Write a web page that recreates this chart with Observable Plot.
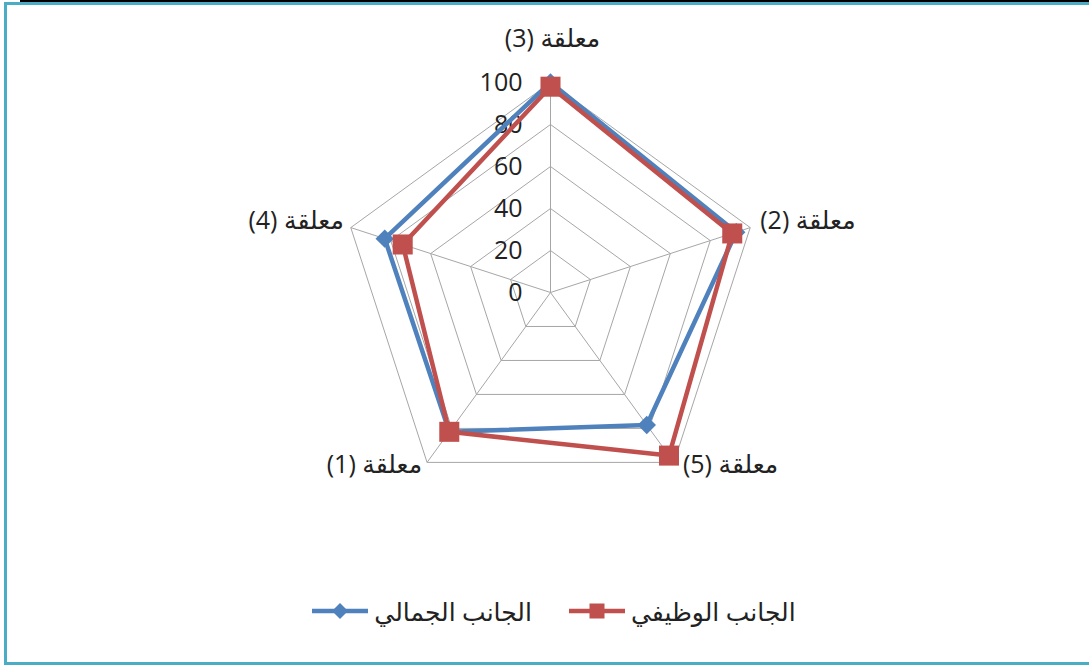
<!DOCTYPE html>
<html><head><meta charset="utf-8">
<script src="https://cdn.jsdelivr.net/npm/d3@7"></script>
<script src="https://cdn.jsdelivr.net/npm/@observablehq/plot@0.6"></script>
<style>
body{margin:0;background:#fff;overflow:hidden;width:1089px;height:666px;position:relative;font-family:"Open Sans","DejaVu Sans",sans-serif;}
#frame{position:absolute;left:4px;top:2px;width:1100px;height:657px;border:3px solid #4bacc6;border-right:none;}
#band{position:absolute;left:20px;top:0;width:1069px;height:2px;background:#000;}
#chart{position:absolute;left:0;top:0;}
#legend{position:absolute;left:0;top:594px;width:1108px;display:flex;justify-content:center;align-items:center;font-size:25px;color:#222;}
#legend .item{display:flex;align-items:center;}
#legend .lbl{direction:rtl;margin-left:6px;}
#legend .gap{width:37px;}
g[aria-label^="axis-name"] text{direction:rtl;}
</style>
</head><body>
<div id="band"></div>
<div id="frame"></div>
<div id="chart"></div>
<div id="legend"></div>
<script>
const axes = ["معلقة (3)", "معلقة (2)", "معلقة (5)", "معلقة (1)", "معلقة (4)"];
const functional = [98, 91, 96, 82, 74];   // الجانب الوظيفي (red)
const aesthetic = [100, 93, 78, 82, 83];   // الجانب الجمالي (blue)
const levels = [20, 40, 60, 80, 100];
const tickLabels = [0, 20, 40, 60, 80, 100];
const seriesNames = ["الجانب الجمالي", "الجانب الوظيفي"];
const seriesColors = ["#4f81bd", "#c0504d"];

const n = axes.length;
const ang = i => Math.PI / 2 - i * 2 * Math.PI / n;
const px = (i, v) => v * Math.cos(ang(i));
const py = (i, v) => v * Math.sin(ang(i));

const W = 1089, H = 580, cx = 550, cy = 292, k = 2.1;

const rings = levels.flatMap(l => d3.range(n + 1).map(j => ({level: l, x: px(j % n, l), y: py(j % n, l)})));
const spokes = axes.map((a, i) => ({x1: 0, y1: 0, x2: px(i, 100), y2: py(i, 100)}));
const mkSeries = (vals, name) => vals.map((v, i) => ({name, i, x: px(i, v), y: py(i, v)}));
const blue = mkSeries(aesthetic, seriesNames[0]);
const red = mkSeries(functional, seriesNames[1]);
const closed = s => [...s, s[0]];
const ticks = tickLabels.map(t => ({t, x: 0, y: t}));

const labelOpts = [
  {anchor: "middle", dx: 2, dy: -44},
  {anchor: "start", dx: 10, dy: -7},
  {anchor: "start", dx: 9, dy: 3},
  {anchor: "end", dx: -5, dy: 3},
  {anchor: "end", dx: -7, dy: -7}
];
const labelMarks = axes.map((a, i) => Plot.text([{a, x: px(i, 100), y: py(i, 100)}], {
  x: "x", y: "y", text: "a", textAnchor: labelOpts[i].anchor, dx: labelOpts[i].dx, dy: labelOpts[i].dy,
  fontSize: 25, fill: "#222", ariaLabel: "axis-name-" + i
}));

const plot = Plot.plot({
  width: W, height: H, margin: 0,
  x: {domain: [-cx / k, (W - cx) / k], range: [0, W], axis: null},
  y: {domain: [(cy - H) / k, cy / k], range: [H, 0], axis: null},
  style: {fontFamily: '"Open Sans","DejaVu Sans",sans-serif', background: "transparent"},
  marks: [
    Plot.line(rings, {x: "x", y: "y", z: "level", stroke: "#a6a6a6", strokeWidth: 1}),
    Plot.link(spokes, {x1: "x1", y1: "y1", x2: "x2", y2: "y2", stroke: "#a6a6a6", strokeWidth: 1}),
    Plot.text(ticks, {x: "x", y: "y", text: d => String(d.t), textAnchor: "end", dx: -28, fontSize: 25, fill: "#222"}),
    ...labelMarks,
    Plot.line(closed(blue), {x: "x", y: "y", stroke: seriesColors[0], strokeWidth: 4.5, strokeLinejoin: "miter"}),
    Plot.dot(blue, {x: "x", y: "y", symbol: "diamond2", r: 8.3, fill: seriesColors[0], stroke: "none"}),
    Plot.line(closed(red), {x: "x", y: "y", stroke: seriesColors[1], strokeWidth: 4.5, strokeLinejoin: "miter"}),
    Plot.dot(red, {x: "x", y: "y", symbol: "square", r: 11.3, fill: seriesColors[1], stroke: "none"})
  ]
});
document.getElementById("chart").appendChild(plot);

// legend
const leg = document.getElementById("legend");
const sym = (color, kind) => {
  const shape = kind === "square"
    ? `<rect x="20.5" y="-7.5" width="15" height="15" fill="${color}"/>`
    : `<path d="M28 -8 L36 0 L28 8 L20 0 Z" fill="${color}"/>`;
  return `<svg width="56" height="20" viewBox="0 -10 56 20"><line x1="0" y1="0" x2="56" y2="0" stroke="${color}" stroke-width="4.5"/>${shape}</svg>`;
};
leg.innerHTML =
  `<div class="item">${sym(seriesColors[0], "diamond")}<span class="lbl">${seriesNames[0]}</span></div>` +
  `<div class="gap"></div>` +
  `<div class="item">${sym(seriesColors[1], "square")}<span class="lbl">${seriesNames[1]}</span></div>`;
</script>
</body></html>
